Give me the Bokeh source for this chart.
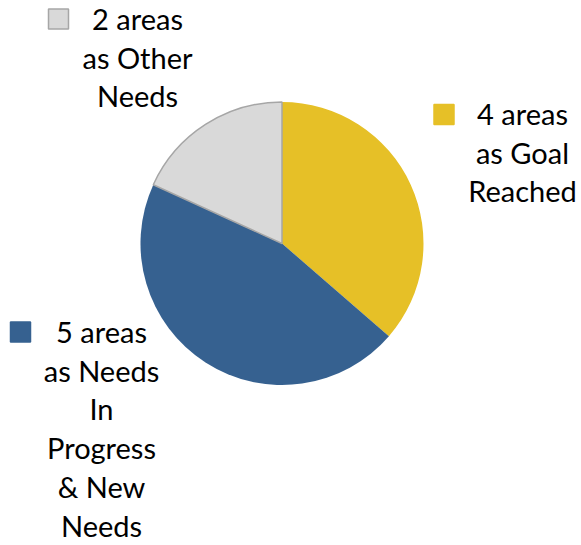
import numpy as np
from bokeh.plotting import figure
from bokeh.models import ColumnDataSource, Range1d
from bokeh.core.properties import value
from bokeh.embed import file_html
from bokeh.resources import INLINE

# ---- data ----
categories = ["Goal Reached", "Needs In Progress & New Needs", "Other Needs"]
counts = [4, 5, 2]
colors = ["#E6C027", "#366190", "#D9D9D9"]
outline_alpha = [0.0, 0.0, 1.0]
label_lines = [
    ["4 areas", "as Goal", "Reached"],
    ["5 areas", "as Needs", "In", "Progress", "& New", "Needs"],
    ["2 areas", "as Other", "Needs"],
]

# ---- layout (screen pixel positions) ----
W, H = 581, 545


def sx(x):
    return x


def sy(y):
    return H - y


center = (sx(281.5), sy(243))
radius = 141.5
legend_sq = [(443.5, 114), (20, 331.5), (58, 18.5)]
label_x = [522, 101, 137]
label_first_base = [113, 331, 18]
line_step = 38.7

p = figure(width=W, height=H, output_backend="svg", toolbar_location=None,
           x_range=Range1d(0, W), y_range=Range1d(0, H), min_border=0)
p.axis.visible = False
p.grid.visible = False
p.outline_line_color = None
p.background_fill_color = "white"
p.border_fill_color = "white"

total = sum(counts)
fracs = np.array(counts, dtype=float) / total
ends = np.pi / 2 - 2 * np.pi * np.cumsum(fracs)
starts = np.concatenate([[np.pi / 2], ends[:-1]])

src = ColumnDataSource(dict(start=starts, end=ends, color=colors,
                            la=outline_alpha, cat=categories))
p.wedge(x=center[0], y=center[1], radius=radius, start_angle="start",
        end_angle="end", direction="clock", fill_color="color",
        line_color="#A6A6A6", line_alpha="la", line_width=1.5, source=src)

# legend squares
sq = ColumnDataSource(dict(
    x=[sx(a) for a, b in legend_sq], y=[sy(b) for a, b in legend_sq],
    color=colors, lc=["#E6C027", "#366190", "#A6A6A6"]))
p.rect(x="x", y="y", width=20, height=20, fill_color="color",
       line_color="lc", line_width=1.5, source=sq)

# labels
tx, ty, tt = [], [], []
for i, lines in enumerate(label_lines):
    for j, t in enumerate(lines):
        tx.append(sx(label_x[i]))
        ty.append(sy(label_first_base[i] + j * line_step))
        tt.append(t)
p.text(x=tx, y=ty, text=tt, text_font=value("Lato"), text_font_size="29px",
       text_align="center", text_baseline="alphabetic", text_color="black")

open("out.html", "w").write(file_html(p, INLINE))
